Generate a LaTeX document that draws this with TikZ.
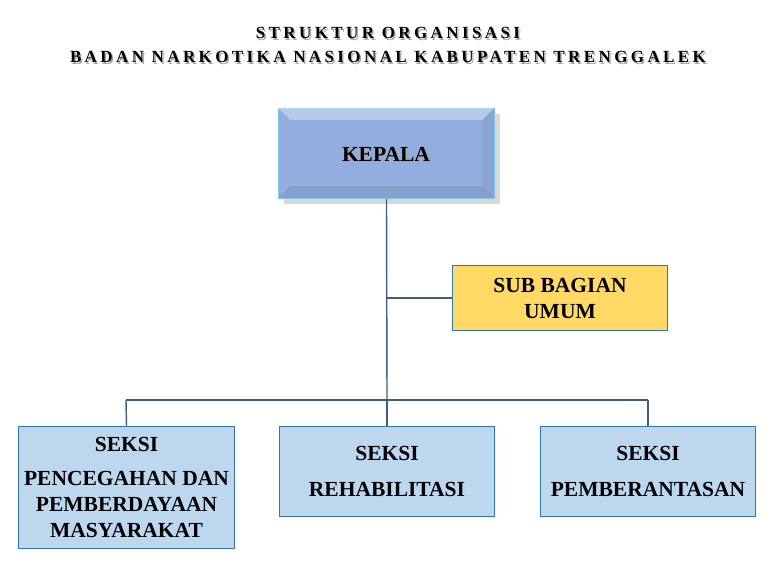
\documentclass[tikz,border=0pt]{standalone}
\usepackage{fontspec}
\setmainfont{Liberation Serif}
\definecolor{kep}{HTML}{92AEE0}
\definecolor{kepb}{HTML}{7FC8F0}
\definecolor{sub}{HTML}{FFD966}
\definecolor{sek}{HTML}{BDD7EE}
\definecolor{edge}{HTML}{2E75B6}
\definecolor{lin}{HTML}{44546A}
\tikzset{
 boxs/.style={draw=edge, line width=1pt, inner sep=0pt, align=center, font=\bfseries\fontsize{21.5}{26}\selectfont},
 conn/.style={draw=lin!70!edge, line width=1.4pt},
 sh/.style={text=black!35}
}
\begin{document}
\begin{tikzpicture}[x=1pt,y=-1pt]
\useasboundingbox (0,0) rectangle (776,567);
\foreach \t/\yy in {{STRUKTUR ORGANISASI}/33,{BADAN NARKOTIKA NASIONAL KABUPATEN TRENGGALEK}/57}{
 \node[sh,font=\bfseries\fontsize{17}{20}\selectfont\addfontfeature{LetterSpace=20}] at (389.5,\yy+1.5) {\t};
 \node[font=\bfseries\fontsize{17}{20}\selectfont\addfontfeature{LetterSpace=20}] at (388,\yy) {\t};
}
\coordinate (bl) at (126,400); \coordinate (bm) at (387,400); \coordinate (br) at (648,400);
\coordinate (js) at (387,298);
\fill[black!30, opacity=0.5] (284,114) rectangle (500,204);
\node[boxs, draw=kepb, fill=kep, minimum width=216, minimum height=90, anchor=north west] (kep) at (278,108) {};
\fill[white, opacity=0.35] (278,108) -- (494,108) -- (482,120) -- (290,120) -- cycle;
\fill[black, opacity=0.08] (278,198) -- (494,198) -- (482,186) -- (290,186) -- cycle;
\fill[black, opacity=0.05] (494,108) -- (494,198) -- (482,186) -- (482,120) -- cycle;
\node[sh,font=\bfseries\fontsize{21.5}{26}\selectfont] at (387.5,155.5) {KEPALA};
\node[font=\bfseries\fontsize{21.5}{26}\selectfont] at (386,154) {KEPALA};
\node[boxs, fill=sub, minimum width=215, minimum height=65, anchor=north west] (sub) at (452,265) {SUB BAGIAN\\UMUM};
\node[boxs, fill=sek, minimum width=216, minimum height=122, anchor=north west] (s1) at (18,426) {SEKSI\\[8pt]PENCEGAHAN DAN\\PEMBERDAYAAN\\MASYARAKAT};
\node[boxs, fill=sek, minimum width=215, minimum height=90, anchor=north west] (s2) at (279,426) {SEKSI\\[10pt]REHABILITASI};
\node[boxs, fill=sek, minimum width=215, minimum height=90, anchor=north west] (s3) at (540,426) {SEKSI\\[10pt]PEMBERANTASAN};
\draw[conn] (kep.south) -- (bm);
\draw[conn] (js) -- (sub.west);
\draw[conn] (bl) -- (br);
\draw[conn] (bl) -- (s1.north);
\draw[conn] (bm) -- (s2.north);
\draw[conn] (br) -- (s3.north);
\end{tikzpicture}
\end{document}
